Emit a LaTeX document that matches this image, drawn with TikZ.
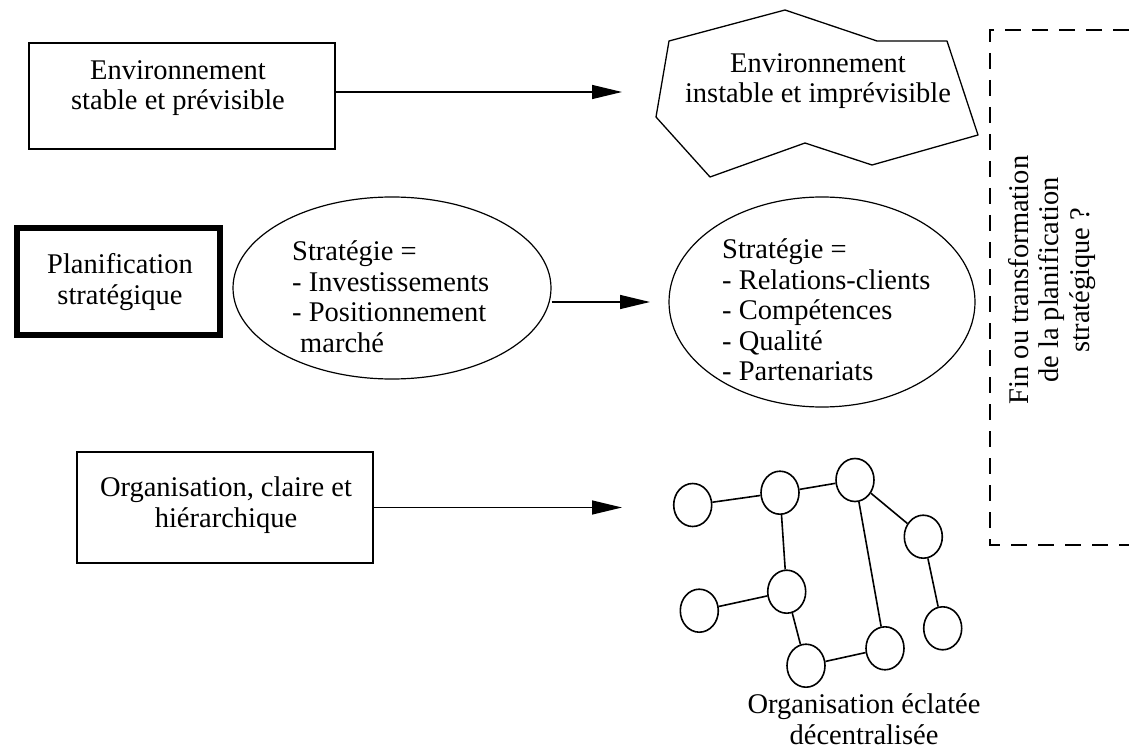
\documentclass[tikz,border=0pt]{standalone}
\usepackage{fontspec}
\setmainfont{Liberation Serif}
\usetikzlibrary{arrows.meta,shapes.geometric}
\begin{document}
\begin{tikzpicture}[x=1pt,y=-1pt,
  txt/.style={font=\fontsize{28.5}{30.5}\selectfont, align=center, inner sep=0pt},
  ltxt/.style={font=\fontsize{28.5}{30.5}\selectfont, align=left, inner sep=0pt, anchor=north west},
  box/.style={draw, line width=1.4pt, rectangle, inner sep=0pt},
  oval/.style={ellipse, draw, line width=1.2pt, inner sep=0pt},
  arr/.style={line width=1.4pt, -{Triangle[length=30pt,width=14pt]}},
  dot/.style={ellipse, draw, line width=1.6pt, minimum width=38pt, minimum height=43pt, inner sep=0pt},
  link/.style={line width=1.6pt},
]
\useasboundingbox (0,0) rectangle (1129,751);

% Row 1
\node[box, minimum width=306pt, minimum height=106pt] (box1) at (182,96) {};
\node[txt] (t1) at (178,88) {Environnement\\stable et prévisible};
\draw[line width=1.3pt, line join=round] (669,41) -- (785,10) -- (877,41) -- (947,41) -- (978,135) -- (872,165) -- (805,143) -- (710,177) -- (656,117) -- cycle;
\node[txt] (t2) at (818,81) {Environnement\\instable et imprévisible};
\coordinate (a1end) at (622,92);
\draw[arr] (box1.east |- a1end) -- (a1end);

% Row 2
\node[box, line width=6pt, minimum width=203pt, minimum height=107pt] (plan) at (118.5,281.5) {};
\node[txt] (tplan) at (120,282) {Planification\\stratégique};
\node[oval, minimum width=318pt, minimum height=182pt] (el1) at (392,288) {};
\node[ltxt] (tel1) at (292,240.5) {Stratégie =\\- Investissements\\- Positionnement\\\hspace*{8pt}marché};
\node[oval, minimum width=306pt, minimum height=210pt] (el2) at (822,302) {};
\node[ltxt] (tel2) at (722,238.5) {Stratégie =\\- Relations-clients\\- Compétences\\- Qualité\\- Partenariats};
\coordinate (a2end) at (650,302);
\draw[arr] (el1.east |- a2end) -- (a2end);

% Dashed frame
\coordinate (d1) at (1129,30);
\coordinate (d2) at (990,30);
\coordinate (d3) at (990,545);
\coordinate (d4) at (1129,545);
\draw[line width=1.4pt, dash pattern=on 16pt off 11pt] (d1) -- (d2) -- (d3) -- (d4);
\node[txt, rotate=90] (tfin) at (1052,280) {Fin ou transformation\\de la planification\\stratégique ?};

% Row 3
\node[box, minimum width=296pt, minimum height=111pt] (box3) at (225,507.5) {};
\node[txt] (t3) at (226,505) {Organisation, claire et\\hiérarchique};
\coordinate (a3end) at (622,507.5);
\draw[arr] (box3.east) -- (a3end);

% Network
\node[dot] (n1) at (692.7,505) {};
\node[dot] (n2) at (780,492.7) {};
\node[dot] (n3) at (855,480) {};
\node[dot] (n4) at (923.3,536.7) {};
\node[dot] (n5) at (786.7,591.7) {};
\node[dot] (n6) at (699.3,610.7) {};
\node[dot] (n7) at (942.7,628.3) {};
\node[dot] (n8) at (885,648.3) {};
\node[dot] (n9) at (806,665.7) {};
\draw[link] (n1) -- (n2);
\draw[link] (n2) -- (n3);
\draw[link] (n3) -- (n4);
\draw[link] (n2) -- (n5);
\draw[link] (n3) -- (n8);
\draw[link] (n4) -- (n7);
\draw[link] (n6) -- (n5);
\draw[link] (n5) -- (n9);
\draw[link] (n9) -- (n8);
\node[txt] (tcap) at (864,719) {Organisation éclatée\\décentralisée};
\end{tikzpicture}
\end{document}
